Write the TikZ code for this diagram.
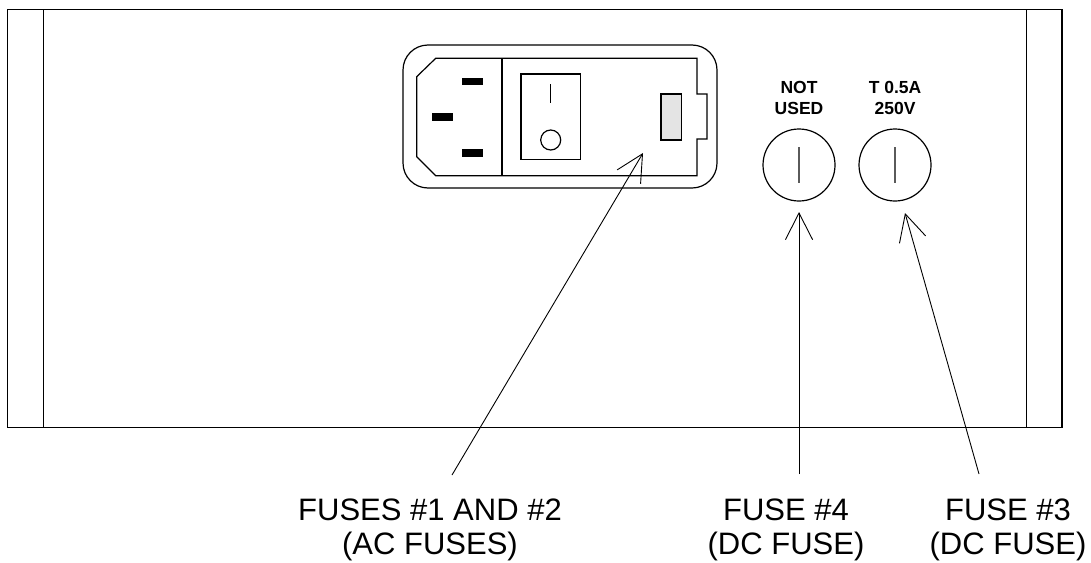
\documentclass[tikz,border=0pt]{standalone}
\usepackage{fontspec}
\setmainfont{Liberation Sans}
\usetikzlibrary{arrows.meta}
\definecolor{holder}{RGB}{228,228,228}
\definecolor{tickgray}{RGB}{90,90,90}
\tikzset{
  outline/.style={draw=black, line width=1.2pt},
  pin/.style={fill=black, draw=none},
  leader/.style={draw=black, line width=0.9pt, -{Straight Barb[length=26.7pt,width=27.2pt]}},
  biglabel/.style={inner sep=0pt, anchor=north, align=center, font=\fontsize{31}{34}\selectfont},
  smalllabel/.style={inner sep=0pt, anchor=north, align=center, font=\fontsize{17.5}{21}\selectfont\bfseries},
  fusecap/.style={outline, circle, minimum size=72pt, inner sep=0pt},
  fusetick/.style={draw=tickgray, line width=1.2pt},
}
\begin{document}
\begin{tikzpicture}[x=1pt,y=-1pt]
\useasboundingbox (0,0) rectangle (1091,562);
% main panel
\draw[outline] (7.5,9.5) rectangle (1062,427.5);
\draw[outline] (43.5,9.5) -- (43.5,427.5);
\draw[outline] (1026.5,9.5) -- (1026.5,427.5);
% power entry module
\draw[outline, rounded corners=25pt] (403,45) rectangle (717,188);
\draw[outline] (435.7,58.3) -- (697,58.3) -- (697,94) -- (707,94) -- (707,139) -- (697,139)
  -- (697,175.7) -- (435.7,175.7) -- (416.7,156.7) -- (416.7,76.7) -- cycle;
\draw[outline] (502,58.3) -- (502,175.7);
\fill[pin] (461.7,77.7) rectangle (482.7,85);
\fill[pin] (432.3,113.3) rectangle (453.3,120.7);
\fill[pin] (461.7,149) rectangle (482.7,156.7);
\draw[outline] (521,74) rectangle (580.7,159.3);
\draw[line width=1.2pt] (550.7,84.3) -- (550.7,103.3);
\draw[line width=1.2pt] (550.7,140) circle (10pt);
\draw[outline, fill=holder] (661,94) rectangle (681.7,140);
% fuse holders
\node[fusecap] (f4) at (799,165) {};
\node[fusecap] (f3) at (895,165) {};
\draw[fusetick] (799,147) -- (799,183);
\draw[fusetick] (895,147) -- (895,183);
\node[smalllabel] (nu) at (799,81.5) {NOT\\USED};
\node[smalllabel] (ra) at (895,81.5) {T 0.5A\\250V};
% callout labels
\node[biglabel] (l12) at (430,498.5) {FUSES \#1 AND \#2\\(AC FUSES)};
\node[biglabel] (l4) at (786,498.5) {FUSE \#4\\(DC FUSE)};
\node[biglabel] (l3) at (1008,498.5) {FUSE \#3\\(DC FUSE)};
% leaders
\coordinate (t12) at (452,475);
\coordinate (h12) at (643,153);
\coordinate (t4) at (799,474);
\coordinate (h4) at (799,212);
\coordinate (t3) at (979,474);
\coordinate (h3) at (905,213);
\draw[leader] (t12) -- (h12);
\draw[leader] (t4) -- (h4);
\draw[leader] (t3) -- (h3);
\end{tikzpicture}
\end{document}
